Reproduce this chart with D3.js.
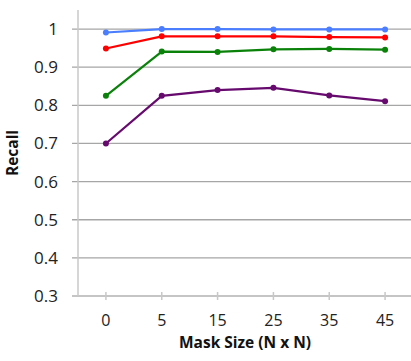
<!DOCTYPE html>
<html>
<head>
<meta charset="utf-8">
<script src="https://cdn.jsdelivr.net/npm/d3@7"></script>
<style>
  body { margin: 0; background: #fff; }
  svg { display: block; font-family: "Open Sans", sans-serif; }
  .tick text { fill: #222; font-size: 17px; font-family: "Open Sans", sans-serif; }
  .x-axis .tick text { font-size: 16px; }
  .grid line { stroke: #a6a6a6; stroke-width: 1.3; }
  .axis-line { stroke: #c8c8c8; stroke-width: 1.5; }
  .title { font-weight: bold; font-size: 15.5px; fill: #111; }
</style>
</head>
<body>
<div class="app"></div>
<script>
var width = 411;
var height = 361;

var categories = ["0", "5", "15", "25", "35", "45"];
var yTicks = [0.3, 0.4, 0.5, 0.6, 0.7, 0.8, 0.9, 1];

var blueValues   = [0.991, 1.000, 1.000, 0.999, 0.999, 0.999];
var redValues    = [0.949, 0.981, 0.981, 0.981, 0.979, 0.978];
var greenValues  = [0.825, 0.941, 0.940, 0.947, 0.948, 0.946];
var purpleValues = [0.700, 0.825, 0.840, 0.846, 0.826, 0.811];

var series = [
  {color: "#4a7dff", values: blueValues},
  {color: "#ff0000", values: redValues},
  {color: "#0a820a", values: greenValues},
  {color: "#660a6e", values: purpleValues}
];

// plot area edges
var plotLeft = 78, plotRight = 413, plotTop = 10, plotBottom = 296;

var svg = d3.select(".app")
            .append("svg")
            .attr("width", width)
            .attr("height", height);

var x = d3.scaleBand()
          .domain(categories)
          .range([plotLeft, plotRight]);

var y = d3.scaleLinear()
          .domain([0.3, 1.05])
          .range([plotBottom, plotTop]);

// horizontal grid lines with small ticks left of the axis
var grid = svg.append("g")
              .attr("class", "grid");
grid.selectAll("line")
    .data(yTicks)
    .enter()
    .append("line")
    .attr("x1", plotLeft - 6)
    .attr("x2", plotRight)
    .attr("y1", function(d) { return y(d); })
    .attr("y2", function(d) { return y(d); });

// y axis labels
var yAxis = d3.axisLeft(y)
              .tickValues(yTicks)
              .tickSize(0)
              .tickPadding(20)
              .tickFormat(function(d) { return d === 1 ? "1" : d3.format(".1f")(d); });

svg.append("g")
   .attr("transform", "translate(" + plotLeft + ",0)")
   .call(yAxis)
   .call(function(g) { g.select(".domain").remove(); });

// x axis: crossing ticks at category centres
var xAxis = d3.axisBottom(x)
              .tickSize(0)
              .tickPadding(18.5);

var xg = svg.append("g")
   .attr("class", "x-axis")
   .attr("transform", "translate(0," + plotBottom + ")")
   .call(xAxis);
xg.select(".domain").remove();
xg.selectAll(".tick")
  .append("line")
  .attr("class", "axis-line")
  .attr("y1", -4)
  .attr("y2", 4);

// axis lines
svg.append("line")
   .attr("class", "axis-line")
   .attr("x1", plotLeft - 6).attr("x2", plotRight)
   .attr("y1", plotBottom).attr("y2", plotBottom);
svg.append("line")
   .attr("class", "axis-line")
   .attr("x1", plotLeft).attr("x2", plotLeft)
   .attr("y1", plotTop).attr("y2", plotBottom);

// series
var line = d3.line()
             .x(function(d, i) { return x(categories[i]) + x.bandwidth() / 2; })
             .y(function(d) { return y(d); });

series.forEach(function(s) {
  svg.append("path")
     .attr("d", line(s.values))
     .attr("fill", "none")
     .attr("stroke", s.color)
     .attr("stroke-width", 2.2);

  svg.selectAll(null)
     .data(s.values)
     .enter()
     .append("circle")
     .attr("cx", function(d, i) { return x(categories[i]) + x.bandwidth() / 2; })
     .attr("cy", function(d) { return y(d); })
     .attr("r", 3)
     .attr("fill", s.color);
});

// titles
svg.append("text")
   .attr("class", "title")
   .attr("transform", "translate(18," + ((plotTop + plotBottom) / 2) + ") rotate(-90)")
   .attr("text-anchor", "middle")
   .text("Recall");

svg.append("text")
   .attr("class", "title")
   .attr("x", 245)
   .attr("y", 347.5)
   .attr("text-anchor", "middle")
   .text("Mask Size (N x N)");
</script>
</body>
</html>
